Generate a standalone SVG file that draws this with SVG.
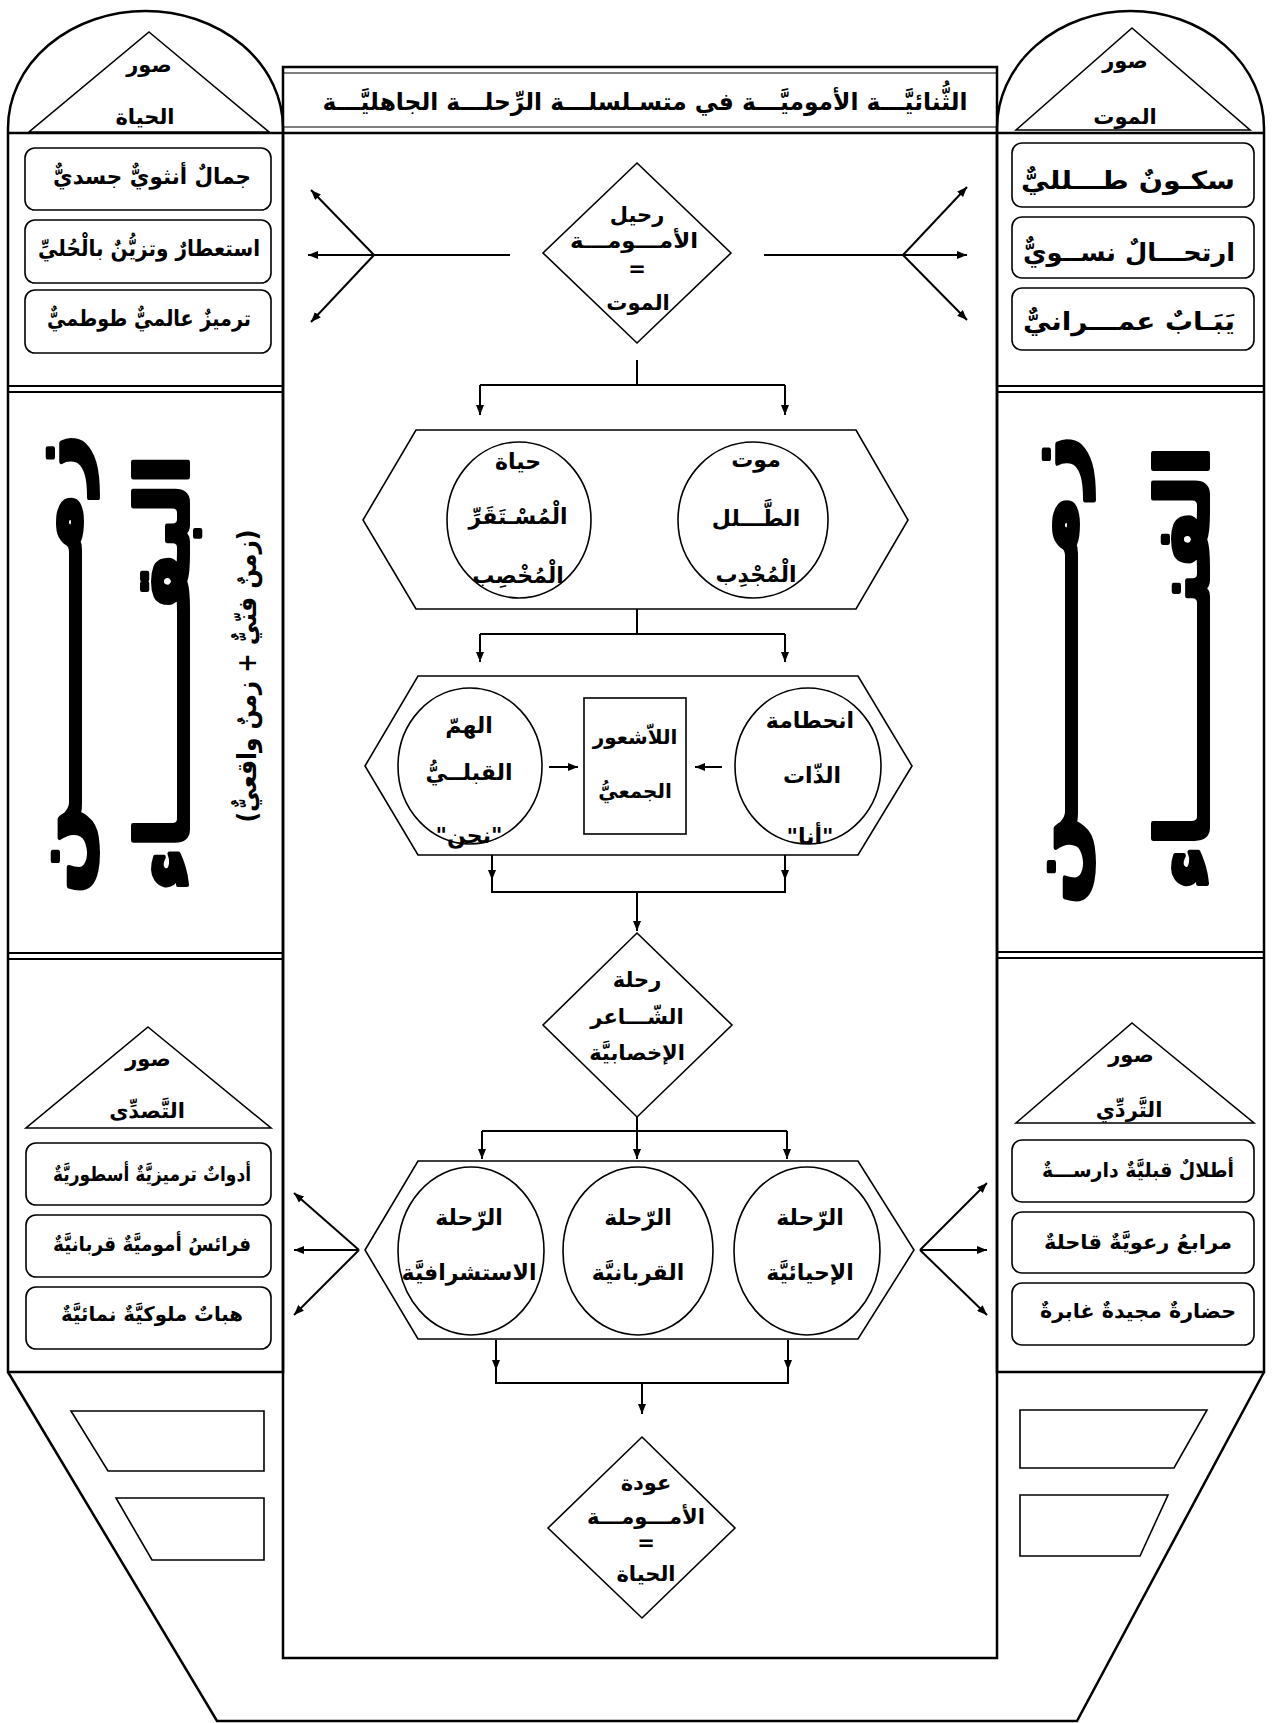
<svg xmlns="http://www.w3.org/2000/svg" width="1274" height="1723" viewBox="0 0 1274 1723">
<style>
.o{fill:none;stroke:#000;stroke-width:2.5}
.s{fill:#fff;stroke:#000;stroke-width:1.6}
.c{fill:none;stroke:#000;stroke-width:2}
.t{font-family:'DejaVu Sans',sans-serif;font-weight:bold;fill:#000;text-anchor:middle;direction:rtl}
.big{font-family:'DejaVu Sans',sans-serif;font-weight:bold;fill:#000;stroke:#000;stroke-width:4;stroke-linejoin:round;text-anchor:middle;direction:rtl}
</style>
<defs>
<marker id="ah" viewBox="0 0 10 8" refX="10" refY="4" markerWidth="10" markerHeight="8" markerUnits="userSpaceOnUse" orient="auto">
<path d="M0,0 L10,4 L0,8 z" fill="#000"/>
</marker>
</defs>
<rect width="1274" height="1723" fill="#fff"/>

<g id="frame">
<rect x="283" y="67" width="714" height="1591" class="o"/>
<line x1="283" y1="73" x2="997" y2="73" stroke="#000" stroke-width="1.2"/>
<line x1="283" y1="127" x2="997" y2="127" stroke="#000" stroke-width="1.2"/>
<line x1="8" y1="133" x2="1264" y2="133" stroke="#000" stroke-width="2.5"/>
<path d="M8,1372 L217,1721 L1077,1721 L1264,1372" class="o"/>
</g>

<g id="title">
<text class="t" x="645" y="110" font-size="24" textLength="645" lengthAdjust="spacingAndGlyphs">الثُّنائيَّـــة الأموميَّـــة في متسـلسلـــة الرِّحلـــة الجاهليَّـــة</text>
</g>

<g id="left-column">
<path d="M8,1372 L8,128 A137.5,117 0 0 1 283,128 L283,1372 Z" class="o"/>
<line x1="8" y1="386" x2="283" y2="386" stroke="#000" stroke-width="2"/>
<line x1="8" y1="392" x2="283" y2="392" stroke="#000" stroke-width="2"/>
<line x1="8" y1="953" x2="283" y2="953" stroke="#000" stroke-width="2"/>
<line x1="8" y1="959" x2="283" y2="959" stroke="#000" stroke-width="2"/>
<polygon points="149,32 269,132 29,132" class="s"/>
<text class="t" x="149" y="72" font-size="21">صور</text>
<text class="t" x="145" y="124" font-size="21">الحياة</text>
<rect x="25" y="148" width="246" height="62" rx="10" class="s"/>
<rect x="25" y="220" width="246" height="63" rx="10" class="s"/>
<rect x="25" y="290" width="246" height="63" rx="10" class="s"/>
<text class="t" x="152" y="184" font-size="22" textLength="198" lengthAdjust="spacingAndGlyphs">جمالٌ أنثويٌّ جسديٌّ</text>
<text class="t" x="149" y="256" font-size="22" textLength="222" lengthAdjust="spacingAndGlyphs">استعطارٌ وتزيُّنٌ بالْحُليِّ</text>
<text class="t" x="149" y="326" font-size="22" textLength="204" lengthAdjust="spacingAndGlyphs">ترميزٌ عالميٌّ طوطميٌّ</text>
<text class="big" transform="translate(80,664) rotate(-90)" font-size="72" textLength="460" lengthAdjust="spacingAndGlyphs">زمـــــــن</text>
<text class="big" transform="translate(188,673) rotate(-90)" font-size="72" textLength="436" lengthAdjust="spacingAndGlyphs">البقـــــــاء</text>
<text class="t" transform="translate(256,676) rotate(-90)" font-size="26" textLength="293" lengthAdjust="spacingAndGlyphs">(زمنٌ فنّيٌّ + زمنٌ واقعيٌّ)</text>
<polygon points="148,1027 271,1128 26,1128" class="s"/>
<text class="t" x="148" y="1066" font-size="21">صور</text>
<text class="t" x="147" y="1118" font-size="21">التَّصدِّى</text>
<rect x="26" y="1143" width="245" height="62" rx="10" class="s"/>
<rect x="26" y="1215" width="245" height="62" rx="10" class="s"/>
<rect x="26" y="1287" width="245" height="62" rx="10" class="s"/>
<text class="t" x="152" y="1181" font-size="20" textLength="198" lengthAdjust="spacingAndGlyphs">أدواتٌ ترميزيَّةٌ أسطوريَّةٌ</text>
<text class="t" x="152" y="1251" font-size="20" textLength="198" lengthAdjust="spacingAndGlyphs">فرائسُ أموميَّةٌ قربانيَّةٌ</text>
<text class="t" x="152" y="1321" font-size="20" textLength="182" lengthAdjust="spacingAndGlyphs">هباتٌ ملوكيَّةٌ نمائيَّةٌ</text>
<polygon points="71,1411 264,1411 264,1471 108,1471" class="s"/>
<polygon points="116,1498 264,1498 264,1560 152,1560" class="s"/>
</g>

<g id="right-column">
<path d="M997,1372 L997,128 A133.5,117 0 0 1 1264,128 L1264,1372 Z" class="o"/>
<line x1="997" y1="386" x2="1264" y2="386" stroke="#000" stroke-width="2"/>
<line x1="997" y1="392" x2="1264" y2="392" stroke="#000" stroke-width="2"/>
<line x1="997" y1="952" x2="1264" y2="952" stroke="#000" stroke-width="2"/>
<line x1="997" y1="958" x2="1264" y2="958" stroke="#000" stroke-width="2"/>
<polygon points="1132,28 1250,130 1016,130" class="s"/>
<text class="t" x="1125" y="68" font-size="21">صور</text>
<text class="t" x="1125" y="124" font-size="21">الموت</text>
<rect x="1012" y="143" width="242" height="64" rx="10" class="s"/>
<rect x="1012" y="217" width="242" height="61" rx="10" class="s"/>
<rect x="1012" y="288" width="242" height="62" rx="10" class="s"/>
<text class="t" x="1128" y="189" font-size="25" textLength="214" lengthAdjust="spacingAndGlyphs">سكـونٌ طـــلليٌّ</text>
<text class="t" x="1129" y="261" font-size="25" textLength="212" lengthAdjust="spacingAndGlyphs">ارتحـــالٌ نســويٌّ</text>
<text class="t" x="1129" y="330" font-size="25" textLength="212" lengthAdjust="spacingAndGlyphs">يَبَـابٌ عمـــرانيٌّ</text>
<text class="big" transform="translate(1076,670) rotate(-90)" font-size="72" textLength="470" lengthAdjust="spacingAndGlyphs">زمـــــــن</text>
<text class="big" transform="translate(1208,668) rotate(-90)" font-size="72" textLength="444" lengthAdjust="spacingAndGlyphs">الفنـــــــاء</text>
<polygon points="1132,1023 1254,1123 1016,1123" class="s"/>
<text class="t" x="1131" y="1062" font-size="21">صور</text>
<text class="t" x="1129" y="1117" font-size="21">التَّردِّي</text>
<rect x="1012" y="1140" width="242" height="62" rx="10" class="s"/>
<rect x="1012" y="1212" width="242" height="61" rx="10" class="s"/>
<rect x="1012" y="1283" width="242" height="62" rx="10" class="s"/>
<text class="t" x="1138" y="1177" font-size="20" textLength="192" lengthAdjust="spacingAndGlyphs">أطلالٌ قبليَّةٌ دارســـةٌ</text>
<text class="t" x="1138" y="1249" font-size="20" textLength="188" lengthAdjust="spacingAndGlyphs">مرابعُ رعويَّةٌ قاحلةٌ</text>
<text class="t" x="1138" y="1318" font-size="20" textLength="196" lengthAdjust="spacingAndGlyphs">حضارةٌ مجيدةٌ غابرةٌ</text>
<polygon points="1020,1410 1207,1410 1174,1468 1020,1468" class="s"/>
<polygon points="1020,1495 1168,1495 1140,1556 1020,1556" class="s"/>
</g>

<g id="diamond-1">
<polygon points="637,163 731,253 637,343 543,253" class="s"/>
<text class="t" x="637" y="222" font-size="21">رحيل</text>
<text class="t" x="634" y="248" font-size="21" textLength="128" lengthAdjust="spacingAndGlyphs">الأمـــومـــة</text>
<text class="t" x="637" y="276" font-size="21">=</text>
<text class="t" x="638" y="310" font-size="21">الموت</text>
</g>

<g id="hexagon-1">
<polygon points="363,520 416,430 856,430 908,520 856,609 416,609" class="s"/>
<ellipse cx="519" cy="520" rx="72" ry="78" class="s"/>
<ellipse cx="753" cy="520" rx="75" ry="78" class="s"/>
<text class="t" x="518" y="469" font-size="22">حياة</text>
<text class="t" x="518" y="524" font-size="22">الْمُسْـتَقَرِّ</text>
<text class="t" x="518" y="583" font-size="22">الْمُخْصِب</text>
<text class="t" x="756" y="467" font-size="22">موت</text>
<text class="t" x="756" y="526" font-size="22">الطَّـــلل</text>
<text class="t" x="756" y="582" font-size="22">الْمُجْدِب</text>
</g>

<g id="hexagon-2">
<polygon points="365,766 418,676 858,676 912,766 858,855 418,855" class="s"/>
<ellipse cx="470" cy="766" rx="72" ry="78" class="s"/>
<ellipse cx="808" cy="766" rx="73" ry="78" class="s"/>
<rect x="584" y="698" width="102" height="136" class="s"/>
<text class="t" x="469" y="733" font-size="22">الهمّ</text>
<text class="t" x="469" y="780" font-size="22">القبلــيُّ</text>
<text class="t" x="469" y="843" font-size="22">"نحن"</text>
<text class="t" x="635" y="744" font-size="20">اللاّشعور</text>
<text class="t" x="635" y="798" font-size="20">الجمعيُّ</text>
<text class="t" x="810" y="728" font-size="22">انحطامة</text>
<text class="t" x="812" y="783" font-size="22">الذّات</text>
<text class="t" x="810" y="844" font-size="22">"أنا"</text>
</g>

<g id="diamond-2">
<polygon points="637,933 732,1025 637,1117 543,1025" class="s"/>
<text class="t" x="637" y="987" font-size="21">رحلة</text>
<text class="t" x="637" y="1024" font-size="21">الشّـــاعر</text>
<text class="t" x="637" y="1060" font-size="21">الإخصابيَّة</text>
</g>

<g id="hexagon-3">
<polygon points="365,1250 418,1161 858,1161 914,1250 858,1339 418,1339" class="s"/>
<ellipse cx="471" cy="1251" rx="73" ry="84" class="s"/>
<ellipse cx="638" cy="1251" rx="75" ry="84" class="s"/>
<ellipse cx="807" cy="1251" rx="73" ry="84" class="s"/>
<text class="t" x="469" y="1225" font-size="22">الرّحلة</text>
<text class="t" x="469" y="1280" font-size="22">الاستشرافيَّة</text>
<text class="t" x="638" y="1225" font-size="22">الرّحلة</text>
<text class="t" x="638" y="1280" font-size="22">القربانيَّة</text>
<text class="t" x="810" y="1225" font-size="22">الرّحلة</text>
<text class="t" x="810" y="1280" font-size="22">الإحيائيَّة</text>
</g>

<g id="diamond-3">
<polygon points="642,1437 735,1528 642,1618 548,1528" class="s"/>
<text class="t" x="646" y="1490" font-size="21">عودة</text>
<text class="t" x="646" y="1524" font-size="21" textLength="118" lengthAdjust="spacingAndGlyphs">الأمـــومـــة</text>
<text class="t" x="646" y="1550" font-size="21">=</text>
<text class="t" x="646" y="1581" font-size="21">الحياة</text>
</g>

<g id="connectors" class="c">
<line x1="510" y1="255" x2="374" y2="255"/>
<line x1="374" y1="255" x2="311" y2="190" marker-end="url(#ah)"/>
<line x1="374" y1="255" x2="308" y2="255" marker-end="url(#ah)"/>
<line x1="374" y1="255" x2="311" y2="322" marker-end="url(#ah)"/>
<line x1="764" y1="255" x2="903" y2="255"/>
<line x1="903" y1="255" x2="967" y2="187" marker-end="url(#ah)"/>
<line x1="903" y1="255" x2="967" y2="255" marker-end="url(#ah)"/>
<line x1="903" y1="255" x2="967" y2="320" marker-end="url(#ah)"/>
<line x1="637" y1="360" x2="637" y2="385"/>
<line x1="480" y1="385" x2="785" y2="385"/>
<line x1="480" y1="385" x2="480" y2="415" marker-end="url(#ah)"/>
<line x1="785" y1="385" x2="785" y2="415" marker-end="url(#ah)"/>
<line x1="637" y1="609" x2="637" y2="634"/>
<line x1="480" y1="634" x2="785" y2="634"/>
<line x1="480" y1="634" x2="480" y2="662" marker-end="url(#ah)"/>
<line x1="785" y1="634" x2="785" y2="662" marker-end="url(#ah)"/>
<line x1="549" y1="767" x2="578" y2="767" marker-end="url(#ah)"/>
<line x1="722" y1="767" x2="695" y2="767" marker-end="url(#ah)"/>
<line x1="492" y1="855" x2="492" y2="880" marker-end="url(#ah)"/>
<line x1="785" y1="855" x2="785" y2="880" marker-end="url(#ah)"/>
<polyline points="492,878 492,892 785,892 785,878"/>
<line x1="637" y1="892" x2="637" y2="931" marker-end="url(#ah)"/>
<line x1="637" y1="1117" x2="637" y2="1159" marker-end="url(#ah)"/>
<line x1="482" y1="1131" x2="787" y2="1131"/>
<line x1="482" y1="1131" x2="482" y2="1159" marker-end="url(#ah)"/>
<line x1="787" y1="1131" x2="787" y2="1159" marker-end="url(#ah)"/>
<line x1="359" y1="1250" x2="294" y2="1193" marker-end="url(#ah)"/>
<line x1="359" y1="1250" x2="294" y2="1250" marker-end="url(#ah)"/>
<line x1="359" y1="1250" x2="294" y2="1315" marker-end="url(#ah)"/>
<line x1="920" y1="1250" x2="987" y2="1183" marker-end="url(#ah)"/>
<line x1="920" y1="1250" x2="987" y2="1250" marker-end="url(#ah)"/>
<line x1="920" y1="1250" x2="987" y2="1315" marker-end="url(#ah)"/>
<line x1="496" y1="1340" x2="496" y2="1370" marker-end="url(#ah)"/>
<line x1="788" y1="1340" x2="788" y2="1370" marker-end="url(#ah)"/>
<polyline points="496,1368 496,1383 788,1383 788,1368"/>
<line x1="642" y1="1383" x2="642" y2="1414" marker-end="url(#ah)"/>
</g>
</svg>
